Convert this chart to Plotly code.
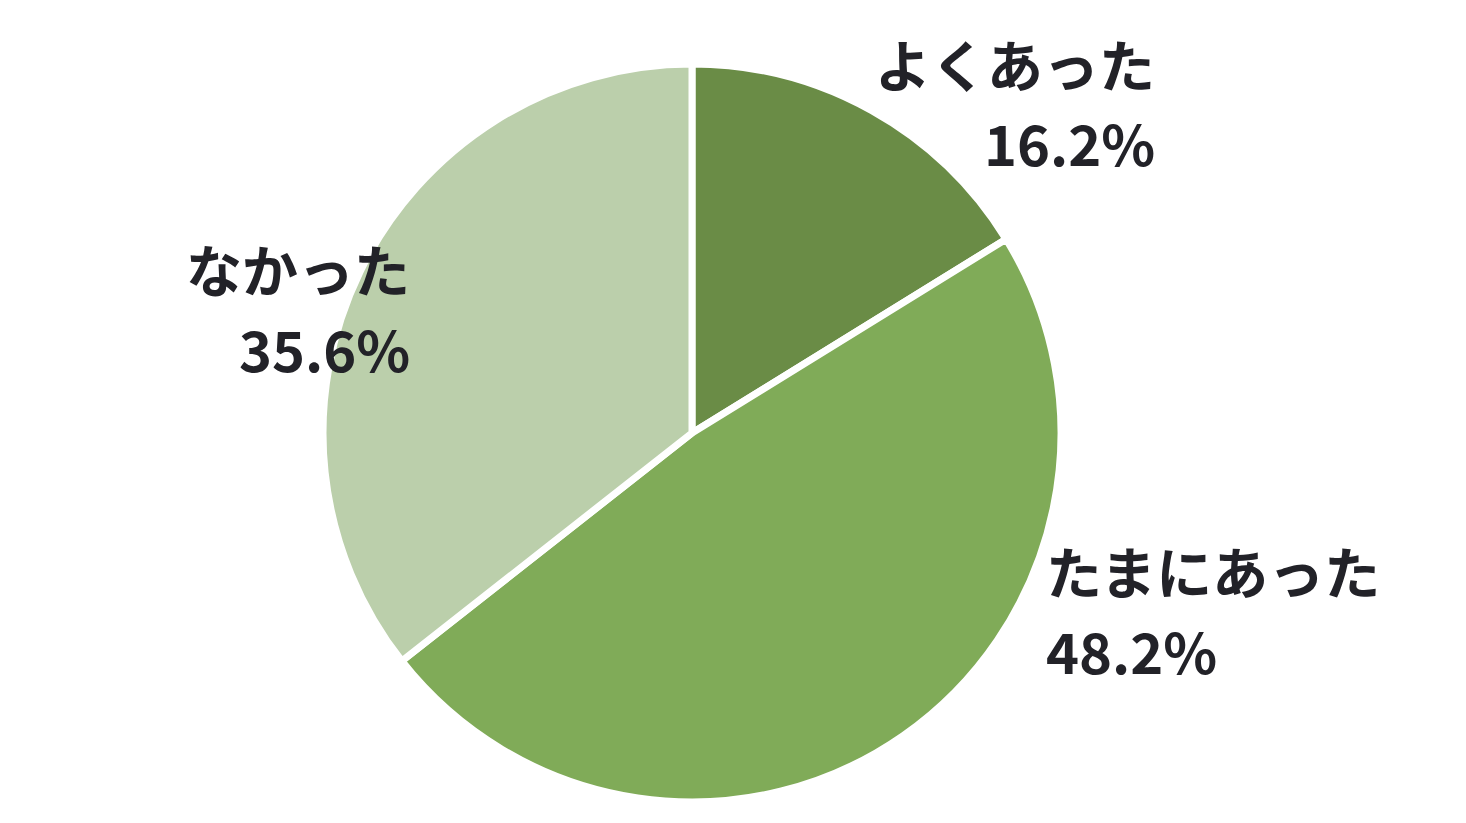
import plotly.graph_objects as go

categories = ["よくあった", "たまにあった", "なかった"]
values = [16.2, 48.2, 35.6]
colors = ["#6A8C46", "#80AB58", "#BBCFAB"]

W, H = 1466, 823
OFF = 8  # page body margin offset

cx, cy, r = 692 - OFF, 433 - OFF, 369

fig = go.Figure(go.Pie(
    labels=categories,
    values=values,
    sort=False,
    direction="clockwise",
    rotation=0,
    textinfo="none",
    hoverinfo="label+percent",
    marker=dict(colors=colors, line=dict(color="#FFFFFF", width=7)),
    domain=dict(x=[(cx - r) / W, (cx + r) / W], y=[1 - (cy + r) / H, 1 - (cy - r) / H]),
    showlegend=False,
))

# label layout: (anchor x px, label y px, anchor side)
label_pos = [(1149, 54, "right"), (1036, 561, "left"), (404, 259, "right")]
line_gap = 80
font = dict(family="Noto Sans CJK JP, Noto Sans, sans-serif", size=56, color="#222228")

annotations = []
for cat, val, (px, py, anc) in zip(categories, values, label_pos):
    annotations.append(dict(
        x=px / W, y=1 - py / H, xref="paper", yref="paper",
        text=f"<b>{cat}</b>", showarrow=False, xanchor=anc, yanchor="middle",
        font=font,
    ))
    annotations.append(dict(
        x=px / W, y=1 - (py + line_gap) / H, xref="paper", yref="paper",
        text=f"<b>{val:.1f}%</b>", showarrow=False, xanchor=anc, yanchor="middle",
        font=font,
    ))

fig.update_layout(
    width=W, height=H,
    margin=dict(l=0, r=0, t=0, b=0),
    paper_bgcolor="#FFFFFF",
    plot_bgcolor="#FFFFFF",
    annotations=annotations,
)

fig.write_html("out.html")
